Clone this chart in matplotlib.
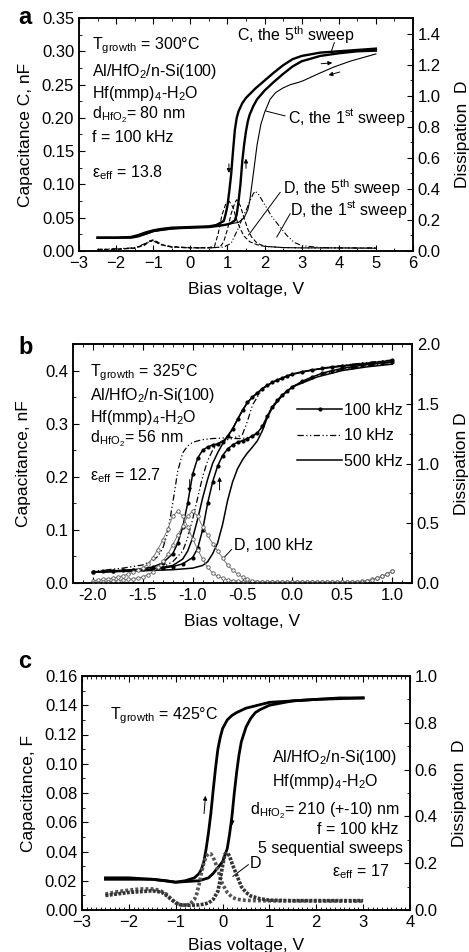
import numpy as np
import matplotlib
matplotlib.use('Agg')
import matplotlib.pyplot as plt
from matplotlib.ticker import MultipleLocator

plt.rcParams['font.family'] = ['Liberation Sans', 'DejaVu Sans']
plt.rcParams['mathtext.fontset'] = 'custom'
plt.rcParams['mathtext.rm'] = 'Liberation Sans'
plt.rcParams['mathtext.it'] = 'Liberation Sans:italic'
plt.rcParams['font.size'] = 10

# ---------------- panel a : 300 C, sweeps ----------------
a_v_c5dn = [-2.5, -2.0, -1.6, -1.4, -1.2, -1.0, -0.8, -0.5, 0.0, 0.5, 0.7, 0.8, 0.9, 0.95, 1.0, 1.05,
            1.1, 1.15, 1.2, 1.25, 1.3, 1.4, 1.5, 1.75, 2.0, 2.25, 2.5, 2.75, 3.0, 3.5, 4.0, 4.5, 5.0]
a_c5dn = [0.020, 0.020, 0.021, 0.024, 0.028, 0.031, 0.033, 0.035, 0.036, 0.037, 0.039, 0.042, 0.045, 0.055,
          0.068, 0.090, 0.115, 0.150, 0.182, 0.200, 0.210, 0.222, 0.230, 0.244, 0.256, 0.268, 0.279, 0.288,
          0.293, 0.298, 0.300, 0.302, 0.304]
a_v_c5up = [-2.5, -2.0, -1.6, -1.4, -1.2, -1.0, -0.8, -0.5, 0.0, 0.5, 0.8, 1.0, 1.1, 1.2, 1.25, 1.3, 1.35,
            1.4, 1.45, 1.5, 1.55, 1.6, 1.7, 1.8, 2.0, 2.25, 2.5, 2.75, 3.0, 3.5, 4.0, 4.5, 5.0]
a_c5up = [0.020, 0.020, 0.020, 0.022, 0.026, 0.030, 0.032, 0.034, 0.035, 0.036, 0.038, 0.040, 0.042, 0.046,
          0.055, 0.075, 0.100, 0.135, 0.160, 0.180, 0.195, 0.205, 0.218, 0.228, 0.241, 0.254, 0.266, 0.277,
          0.285, 0.293, 0.297, 0.300, 0.301]
a_v_c1 = [-2.5, -2.0, -1.5, -1.2, -1.0, -0.5, 0.0, 0.5, 1.0, 1.3, 1.45, 1.55, 1.6, 1.7, 1.8, 1.9, 2.0, 2.15,
          2.3, 2.5, 2.7, 2.9, 3.05, 3.4, 3.85, 4.3, 5.0]
a_c1 = [0.020, 0.020, 0.021, 0.025, 0.029, 0.033, 0.035, 0.036, 0.040, 0.043, 0.050, 0.062, 0.075, 0.117,
        0.160, 0.190, 0.208, 0.228, 0.238, 0.245, 0.250, 0.253, 0.256, 0.265, 0.276, 0.285, 0.296]
a_v_d5a = [-2.5, -2.0, -1.5, -1.25, -1.1, -1.0, -0.9, -0.75, -0.5, 0.0, 0.5, 0.65, 0.75, 0.85, 0.95, 1.05,
           1.15, 1.25, 1.35, 1.45, 1.6, 1.8, 2.0, 2.5, 3.0, 4.0, 5.0]
a_d5a = [0.010, 0.012, 0.020, 0.040, 0.065, 0.072, 0.060, 0.040, 0.028, 0.022, 0.022, 0.030, 0.110, 0.230,
         0.300, 0.320, 0.280, 0.200, 0.140, 0.095, 0.060, 0.040, 0.030, 0.022, 0.020, 0.020, 0.018]
a_v_d5b = [-2.5, -2.0, -1.5, -1.25, -1.1, -1.0, -0.9, -0.75, -0.5, 0.0, 0.5, 0.8, 0.9, 1.0, 1.1, 1.2, 1.25,
           1.35, 1.45, 1.55, 1.65, 1.8, 2.0, 2.5, 3.0, 4.0, 5.0]
a_d5b = [0.008, 0.010, 0.018, 0.035, 0.060, 0.068, 0.058, 0.038, 0.026, 0.020, 0.020, 0.025, 0.060, 0.140,
         0.240, 0.310, 0.330, 0.290, 0.210, 0.140, 0.090, 0.050, 0.030, 0.022, 0.020, 0.020, 0.018]
a_v_d1 = [-2.5, -1.5, -1.1, -1.0, -0.8, -0.5, 0.0, 0.5, 0.9, 1.1, 1.3, 1.4, 1.5, 1.6, 1.7, 1.75, 1.85, 2.0,
          2.2, 2.4, 2.6, 2.8, 3.0, 3.5, 4.0, 5.0]
a_d1 = [0.010, 0.020, 0.060, 0.065, 0.040, 0.025, 0.020, 0.020, 0.025, 0.050, 0.150, 0.210, 0.260, 0.320,
        0.370, 0.385, 0.360, 0.300, 0.220, 0.160, 0.100, 0.055, 0.035, 0.022, 0.020, 0.020]

# ---------------- panel b : 325 C, frequencies ----------------
b_v_up500 = [-2.0, -1.5, -1.2, -1.0, -0.9, -0.85, -0.8, -0.75, -0.7, -0.65, -0.6, -0.55, -0.5, -0.45, -0.4,
             -0.35, -0.3, -0.25, -0.2, -0.1, 0.0, 0.25, 0.5, 0.75, 1.0]
b_c_up500 = [0.020, 0.023, 0.025, 0.028, 0.033, 0.040, 0.055, 0.075, 0.110, 0.155, 0.190, 0.215, 0.232,
             0.245, 0.256, 0.268, 0.287, 0.312, 0.330, 0.353, 0.369, 0.388, 0.400, 0.407, 0.412]
b_v_up100 = [-2.0, -1.8, -1.6, -1.4, -1.3, -1.2, -1.1, -1.0, -0.95, -0.9, -0.85, -0.8, -0.75, -0.7, -0.65,
             -0.6, -0.55, -0.5, -0.45, -0.4, -0.35, -0.3, -0.25, -0.2, -0.15, -0.1, -0.05, 0.0, 0.1, 0.2,
             0.3, 0.4, 0.5, 0.6, 0.7, 0.8, 0.9, 1.0]
b_c_up100 = [0.021, 0.022, 0.024, 0.026, 0.028, 0.031, 0.036, 0.048, 0.065, 0.100, 0.150, 0.190, 0.220,
             0.240, 0.252, 0.260, 0.265, 0.268, 0.272, 0.277, 0.283, 0.295, 0.315, 0.332, 0.344, 0.354,
             0.362, 0.369, 0.380, 0.388, 0.395, 0.400, 0.404, 0.407, 0.410, 0.412, 0.414, 0.416]
b_v_up10 = [-2.0, -1.6, -1.4, -1.3, -1.2, -1.1, -1.05, -1.0, -0.95, -0.9, -0.85, -0.8, -0.75, -0.7, -0.6,
            -0.5, -0.4, -0.35, -0.3, -0.25, -0.2, -0.1, 0.0, 0.25, 0.5, 0.75, 1.0]
b_c_up10 = [0.021, 0.024, 0.027, 0.030, 0.040, 0.060, 0.085, 0.120, 0.160, 0.200, 0.230, 0.250, 0.262,
            0.268, 0.272, 0.272, 0.276, 0.282, 0.294, 0.315, 0.333, 0.355, 0.370, 0.390, 0.402, 0.409, 0.416]
b_v_dn500 = [1.0, 0.6, 0.3, 0.1, 0.0, -0.1, -0.2, -0.3, -0.4, -0.45, -0.5, -0.55, -0.6, -0.65, -0.7, -0.75,
             -0.8, -0.85, -0.9, -0.95, -1.0, -1.05, -1.1, -1.2, -1.4, -1.7, -2.0]
b_c_dn500 = [0.416, 0.410, 0.404, 0.398, 0.393, 0.386, 0.378, 0.366, 0.350, 0.340, 0.325, 0.308, 0.290,
             0.276, 0.262, 0.245, 0.225, 0.195, 0.160, 0.120, 0.085, 0.060, 0.045, 0.033, 0.026, 0.023, 0.020]
b_v_dn100 = [1.0, 0.9, 0.8, 0.7, 0.6, 0.5, 0.4, 0.3, 0.2, 0.1, 0.0, -0.05, -0.1, -0.15, -0.2, -0.25, -0.3,
             -0.35, -0.4, -0.45, -0.5, -0.55, -0.6, -0.65, -0.7, -0.75, -0.8, -0.85, -0.9, -0.95, -1.0,
             -1.05, -1.1, -1.15, -1.2, -1.3, -1.4, -1.5, -1.6, -1.7, -1.8, -1.9, -2.0]
b_c_dn100 = [0.419, 0.417, 0.415, 0.413, 0.411, 0.409, 0.407, 0.404, 0.401, 0.397, 0.393, 0.390, 0.386,
             0.382, 0.378, 0.372, 0.366, 0.358, 0.350, 0.340, 0.325, 0.308, 0.290, 0.276, 0.266, 0.262,
             0.260, 0.256, 0.250, 0.235, 0.205, 0.150, 0.105, 0.075, 0.055, 0.038, 0.030, 0.027, 0.025,
             0.024, 0.023, 0.022, 0.021]
b_v_dn10 = [1.0, 0.6, 0.3, 0.0, -0.2, -0.3, -0.4, -0.45, -0.5, -0.55, -0.6, -0.7, -0.8, -0.9, -1.0, -1.05,
            -1.1, -1.15, -1.2, -1.25, -1.3, -1.35, -1.4, -1.5, -1.7, -2.0]
b_c_dn10 = [0.420, 0.412, 0.405, 0.394, 0.378, 0.366, 0.335, 0.305, 0.280, 0.275, 0.274, 0.273, 0.272,
            0.270, 0.265, 0.258, 0.245, 0.210, 0.150, 0.095, 0.065, 0.050, 0.042, 0.034, 0.028, 0.022]
b_v_d = np.round(np.linspace(-2.0, 1.0, 61), 2)
b_d_left = [0.020, 0.025, 0.030, 0.035, 0.040, 0.050, 0.060, 0.075, 0.090, 0.105, 0.125, 0.160, 0.210,
            0.280, 0.360, 0.450, 0.560, 0.600, 0.560, 0.470, 0.370, 0.280, 0.200, 0.130, 0.085, 0.055,
            0.040, 0.028, 0.020, 0.015, 0.012, 0.010, 0.010, 0.010, 0.010, 0.010, 0.010, 0.010, 0.010,
            0.010, 0.010, 0.010, 0.010, 0.010, 0.010, 0.010, 0.010, 0.010, 0.010, 0.010, 0.010, 0.010,
            0.010, 0.012, 0.015, 0.020, 0.030, 0.042, 0.057, 0.075, 0.100]
b_d_right = [0.000, 0.003, 0.006, 0.010, 0.015, 0.020, 0.025, 0.030, 0.035, 0.042, 0.050, 0.070, 0.090,
             0.130, 0.180, 0.240, 0.320, 0.400, 0.480, 0.560, 0.600, 0.560, 0.470, 0.400, 0.330, 0.270,
             0.210, 0.150, 0.110, 0.075, 0.050, 0.030, 0.020, 0.012, 0.008, 0.006, 0.005, 0.005, 0.005,
             0.005, 0.005, 0.005, 0.005, 0.005, 0.005, 0.005, 0.005, 0.005, 0.005, 0.005, 0.005, 0.005,
             0.006, 0.008, 0.012, 0.018, 0.028, 0.040, 0.055, 0.075, 0.100]

# ---------------- panel c : 425 C ----------------
c_v_cl = [-2.5, -2.0, -1.5, -1.2, -1.0, -0.8, -0.6, -0.5, -0.45, -0.4, -0.35, -0.3, -0.25, -0.2, -0.15,
          -0.1, -0.05, 0.0, 0.1, 0.2, 0.3, 0.5, 0.75, 1.0, 1.5, 2.0, 2.5, 3.0]
c_c_cl = [0.021, 0.021, 0.021, 0.020, 0.019, 0.020, 0.022, 0.025, 0.028, 0.033, 0.042, 0.053, 0.066, 0.082,
          0.097, 0.110, 0.118, 0.124, 0.130, 0.133, 0.135, 0.138, 0.140, 0.142, 0.143, 0.144, 0.145, 0.145]
c_v_cr = [-2.5, -2.0, -1.5, -1.0, -0.5, -0.3, -0.2, -0.1, 0.0, 0.1, 0.15, 0.2, 0.25, 0.3, 0.35, 0.4, 0.5,
          0.6, 0.7, 0.8, 1.0, 1.5, 2.0, 3.0]
c_c_cr = [0.022, 0.022, 0.021, 0.019, 0.020, 0.022, 0.025, 0.029, 0.033, 0.042, 0.052, 0.064, 0.080, 0.094,
          0.106, 0.115, 0.125, 0.131, 0.135, 0.137, 0.140, 0.143, 0.144, 0.145]
c_v_dl = [-2.5, -2.25, -2.0, -1.75, -1.5, -1.35, -1.2, -1.1, -1.0, -0.9, -0.8, -0.7, -0.6, -0.55, -0.5,
          -0.45, -0.4, -0.35, -0.3, -0.25, -0.2, -0.15, -0.1, -0.05, 0.0, 0.1, 0.2, 0.3, 0.5, 1.0, 3.0]
c_d_dl = [0.068, 0.078, 0.085, 0.090, 0.090, 0.085, 0.068, 0.048, 0.032, 0.022, 0.020, 0.025, 0.045, 0.070,
          0.110, 0.160, 0.200, 0.230, 0.240, 0.240, 0.225, 0.200, 0.170, 0.140, 0.110, 0.075, 0.055, 0.046,
          0.041, 0.039, 0.038]
c_v_dr = [-2.5, -2.0, -1.5, -1.3, -1.2, -1.0, -0.9, -0.7, -0.5, -0.4, -0.3, -0.2, -0.1, -0.05, 0.0, 0.05,
          0.1, 0.15, 0.2, 0.3, 0.4, 0.5, 0.6, 0.8, 1.0, 1.5, 3.0]
c_d_dr = [0.062, 0.075, 0.082, 0.076, 0.062, 0.030, 0.022, 0.020, 0.022, 0.025, 0.030, 0.045, 0.080, 0.130,
          0.190, 0.238, 0.245, 0.230, 0.200, 0.150, 0.100, 0.075, 0.060, 0.048, 0.042, 0.040, 0.040]

W, H = 469, 952
fig = plt.figure(figsize=(W / 100, H / 100), dpi=100)
fs = 11.5    # annotation text
lfs = 12.5   # axis labels
tfs = 12     # tick labels


def setup(ax, ax2):
    for a in (ax, ax2):
        for s in a.spines.values():
            s.set_linewidth(1.1)
    ax.tick_params(which='both', direction='in', top=True, right=False, labelsize=tfs)
    ax.tick_params(which='major', length=4)
    ax.tick_params(which='minor', length=2)
    ax2.tick_params(which='both', direction='in', labelsize=tfs)
    ax2.tick_params(which='major', length=4)
    ax2.tick_params(which='minor', length=2)


# ---- panel a
ax = fig.add_axes([79 / W, 1 - 251 / H, 334 / W, 233 / H])
ax2 = ax.twinx()
setup(ax, ax2)
ax.plot(a_v_c5dn, a_c5dn, color='k', lw=1.7)
ax.plot(a_v_c5up, a_c5up, color='k', lw=1.7)
ax.plot(a_v_c1, a_c1, color='k', lw=0.8)
ax2.plot(a_v_d5a, a_d5a, color='k', lw=0.8, ls=(0, (4, 2)))
ax2.plot(a_v_d5b, a_d5b, color='k', lw=0.8, ls=(0, (4, 2)))
ax2.plot(a_v_d1, a_d1, color='k', lw=0.8, ls=(0, (5, 2, 1, 2, 1, 2)))
ax.set_xlim(-3, 6)
ax.set_ylim(0, 0.35)
ax2.set_ylim(0, 1.5)
ax.xaxis.set_major_locator(MultipleLocator(1))
ax.xaxis.set_minor_locator(MultipleLocator(0.5))
ax.yaxis.set_major_locator(MultipleLocator(0.05))
ax.yaxis.set_minor_locator(MultipleLocator(0.025))
ax.yaxis.set_major_formatter(plt.FormatStrFormatter('%.2f'))
ax2.yaxis.set_major_locator(MultipleLocator(0.2))
ax2.yaxis.set_minor_locator(MultipleLocator(0.1))
ax2.yaxis.set_major_formatter(plt.FormatStrFormatter('%.1f'))
ax.set_xlabel('Bias voltage, V', fontsize=lfs, labelpad=8)
ax.set_ylabel('Capacitance C, nF', fontsize=lfs, labelpad=6)
ax2.set_ylabel('Dissipation  D', fontsize=lfs, labelpad=10)
ax.text(-2.65, 0.309, r'T$_{\rm growth}$ = 300°C', fontsize=fs, va='center')
ax.text(-2.65, 0.269, r'Al/HfO$_2$/n-Si(100)', fontsize=fs, va='center')
ax.text(-2.65, 0.237, r'Hf(mmp)$_4$-H$_2$O', fontsize=fs, va='center')
ax.text(-2.65, 0.204, r'd$_{\rm HfO_2}$= 80 nm', fontsize=fs, va='center')
ax.text(-2.65, 0.171, 'f = 100 kHz', fontsize=fs, va='center')
ax.text(-2.65, 0.117, r'ε$_{\rm eff}$ = 13.8', fontsize=fs, va='center')
ax.text(1.26, 0.324, r'C, the 5$^{\rm th}$ sweep', fontsize=fs, va='center')
ax.plot([3.88, 3.8], [0.313, 0.300], color='k', lw=0.7)
ax.text(2.62, 0.201, r'C, the 1$^{\rm st}$ sweep', fontsize=fs, va='center')
ax.plot([2.55, 2.05], [0.203, 0.210], color='k', lw=0.7)
ax.text(2.5, 0.094, r'D, the 5$^{\rm th}$ sweep', fontsize=fs, va='center')
ax.plot([2.42, 1.57], [0.088, 0.024], color='k', lw=0.7)
ax.text(2.69, 0.063, r'D, the 1$^{\rm st}$ sweep', fontsize=fs, va='center')
ax.plot([2.69, 2.33], [0.056, 0.021], color='k', lw=0.7)
arr = dict(arrowstyle='-|>', lw=0.7, color='k', mutation_scale=6)
ax.annotate('', xy=(1.04, 0.113), xytext=(1.04, 0.135), arrowprops=arr)
ax.annotate('', xy=(1.5, 0.143), xytext=(1.5, 0.12), arrowprops=arr)
ax.annotate('', xy=(3.9, 0.283), xytext=(3.45, 0.281), arrowprops=arr)
ax.annotate('', xy=(3.65, 0.263), xytext=(4.1, 0.270), arrowprops=arr)
fig.text(18 / W, 1 - 18 / H, 'a', fontsize=17, fontweight='bold', va='center')

# ---- panel b
ax = fig.add_axes([73 / W, 1 - 583 / H, 339 / W, 239 / H])
ax2 = ax.twinx()
setup(ax, ax2)
ax.plot(b_v_up100, b_c_up100, color='k', lw=1.1, marker='o', ms=2)
ax.plot(b_v_dn100, b_c_dn100, color='k', lw=1.1, marker='o', ms=2, label='100 kHz')
ax.plot(b_v_up10, b_c_up10, color='k', lw=0.9, ls=(0, (5, 2, 1, 2, 1, 2)))
ax.plot(b_v_dn10, b_c_dn10, color='k', lw=0.9, ls=(0, (5, 2, 1, 2, 1, 2)), label='10 kHz')
ax.plot(b_v_up500, b_c_up500, color='k', lw=1.1)
ax.plot(b_v_dn500, b_c_dn500, color='k', lw=1.1, label='500 kHz')
ax2.plot(b_v_d, b_d_left, color='#777777', lw=0.7, marker='o', ms=2.5, mfc='white', mec='#555555', mew=0.6)
ax2.plot(b_v_d, b_d_right, color='#777777', lw=0.7, marker='o', ms=2.5, mfc='white', mec='#555555', mew=0.6)
ax.set_xlim(-2.2, 1.2)
ax.set_ylim(0, 0.45)
ax2.set_ylim(0, 2.0)
ax.xaxis.set_major_locator(MultipleLocator(0.5))
ax.xaxis.set_minor_locator(MultipleLocator(0.1))
ax.xaxis.set_major_formatter(plt.FormatStrFormatter('%.1f'))
ax.yaxis.set_major_locator(MultipleLocator(0.1))
ax.yaxis.set_minor_locator(MultipleLocator(0.05))
ax.yaxis.set_major_formatter(plt.FormatStrFormatter('%.1f'))
ax2.yaxis.set_major_locator(MultipleLocator(0.5))
ax2.yaxis.set_minor_locator(MultipleLocator(0.25))
ax2.yaxis.set_major_formatter(plt.FormatStrFormatter('%.1f'))
ax.set_xlabel('Bias voltage, V', fontsize=lfs, labelpad=8)
ax.set_ylabel('Capacitance, nF', fontsize=lfs, labelpad=10)
ax2.set_ylabel('Dissipation D', fontsize=lfs, labelpad=10)
ax.text(-2.03, 0.396, r'T$_{\rm growth}$ = 325°C', fontsize=fs, va='center')
ax.text(-2.03, 0.353, r'Al/HfO$_2$/n-Si(100)', fontsize=fs, va='center')
ax.text(-2.03, 0.312, r'Hf(mmp)$_4$-H$_2$O', fontsize=fs, va='center')
ax.text(-2.03, 0.272, r'd$_{\rm HfO_2}$= 56 nm', fontsize=fs, va='center')
ax.text(-2.03, 0.203, r'ε$_{\rm eff}$ = 12.7', fontsize=fs, va='center')
ax.legend(loc='upper left', bbox_to_anchor=(0.643, 0.78), frameon=False, fontsize=fs,
          handlelength=2.8, handletextpad=0.1, labelspacing=0.65, borderaxespad=0)
ax.text(-0.59, 0.071, 'D, 100 kHz', fontsize=fs, va='center')
ax.plot([-0.61, -0.70], [0.063, 0.045], color='k', lw=0.7)
ax.annotate('', xy=(-1.03, 0.165), xytext=(-1.03, 0.2), arrowprops=arr)
ax.annotate('', xy=(-0.73, 0.205), xytext=(-0.73, 0.17), arrowprops=arr)
fig.text(18 / W, 1 - 347 / H, 'b', fontsize=17, fontweight='bold', va='center')

# ---- panel c
ax = fig.add_axes([82 / W, 1 - 910 / H, 328 / W, 234 / H])
ax2 = ax.twinx()
setup(ax, ax2)
ax.plot(c_v_cl, c_c_cl, color='k', lw=2.0)
ax.plot(c_v_cr, c_c_cr, color='k', lw=2.0)
ax2.plot(c_v_dl, c_d_dl, color='#555555', lw=2.6, ls=(0, (0.8, 0.6)))
ax2.plot(c_v_dr, c_d_dr, color='#333333', lw=2.6, ls=(0, (0.8, 0.4)))
ax.set_xlim(-3, 4)
ax.set_ylim(0, 0.16)
ax2.set_ylim(0, 1.0)
ax.xaxis.set_major_locator(MultipleLocator(1))
ax.xaxis.set_minor_locator(MultipleLocator(0.1))
ax.yaxis.set_major_locator(MultipleLocator(0.02))
ax.yaxis.set_minor_locator(MultipleLocator(0.01))
ax.yaxis.set_major_formatter(plt.FormatStrFormatter('%.2f'))
ax2.yaxis.set_major_locator(MultipleLocator(0.2))
ax2.yaxis.set_minor_locator(MultipleLocator(0.1))
ax2.yaxis.set_major_formatter(plt.FormatStrFormatter('%.1f'))
ax.set_xlabel('Bias voltage, V', fontsize=lfs, labelpad=6)
ax.set_ylabel('Capacitance, F', fontsize=lfs, labelpad=6)
ax2.set_ylabel('Dissipation  D', fontsize=lfs, labelpad=10)
ax.text(-2.4, 0.133, r'T$_{\rm growth}$ = 425°C', fontsize=fs, va='center')
ax.text(3.72, 0.104, r'Al/HfO$_2$/n-Si(100)', fontsize=fs, va='center', ha='right')
ax.text(2.18, 0.088, r'Hf(mmp)$_4$-H$_2$O', fontsize=fs, va='center', ha='center')
ax.text(3.78, 0.068, r'd$_{\rm HfO_2}$= 210 (+-10) nm', fontsize=fs, va='center', ha='right')
ax.text(3.76, 0.055, 'f = 100 kHz', fontsize=fs, va='center', ha='right')
ax.text(3.84, 0.042, '5 sequential sweeps', fontsize=fs, va='center', ha='right')
ax.text(3.57, 0.026, r'ε$_{\rm eff}$ = 17', fontsize=fs, va='center', ha='right')
ax.text(0.58, 0.032, 'D', fontsize=fs, va='center')
ax.plot([0.55, 0.22], [0.031, 0.023], color='k', lw=0.7)
ax.annotate('', xy=(-0.36, 0.08), xytext=(-0.4, 0.064), arrowprops=arr)
ax.annotate('', xy=(0.2, 0.056), xytext=(0.22, 0.07), arrowprops=arr)
fig.text(18 / W, 1 - 662 / H, 'c', fontsize=17, fontweight='bold', va='center')

fig.savefig('out.png', dpi=100)
